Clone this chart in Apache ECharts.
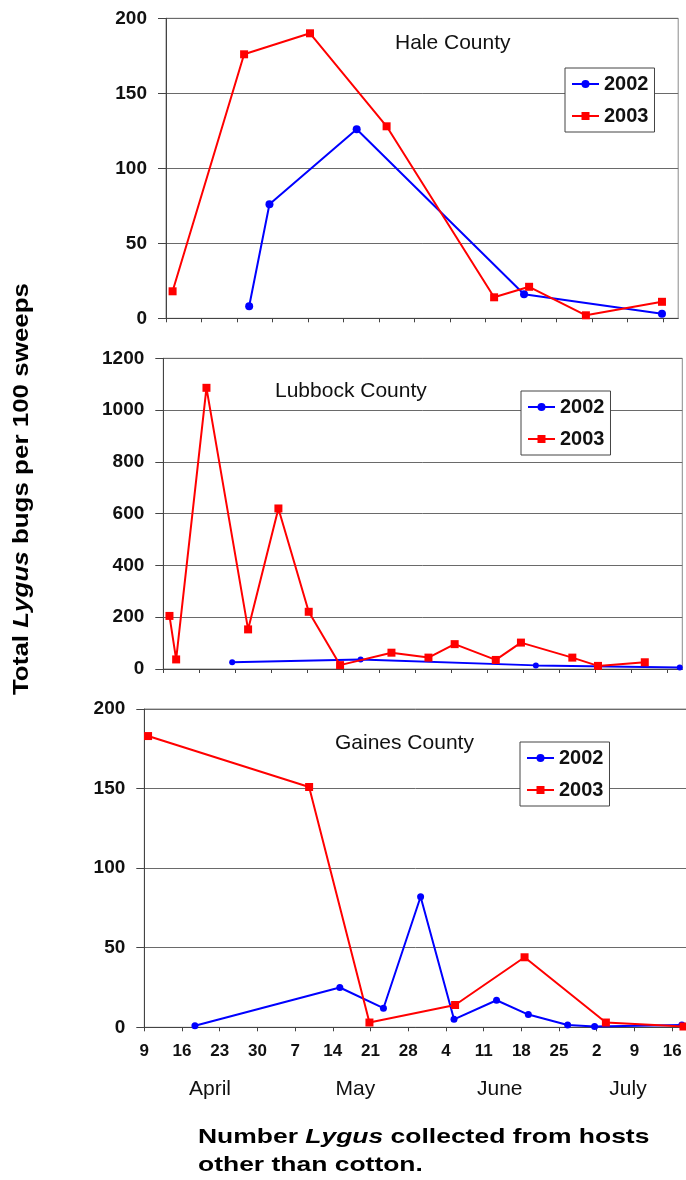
<!DOCTYPE html>
<html>
<head>
<meta charset="utf-8">
<script src="https://cdn.jsdelivr.net/npm/echarts@6/dist/echarts.min.js"></script>
<style>
html,body{margin:0;padding:0;background:#fff;}
#chart{width:686px;height:1180px;}
</style>
</head>
<body>
<div id="chart"></div>
<script>
// ---- data (x = days after 9 April) ----
const xTickLabels = ['9','16','23','30','7','14','21','28','4','11','18','25','2','9','16'];
const months = ['April','May','June','July'];
const monthCenters = [12.2, 39.2, 66.0, 89.8];
const panelTitles = ['Hale County','Lubbock County','Gaines County'];
const seriesNames = ['2002','2003'];

const haleDays2002 = [16.4, 20.4, 37.6, 70.6, 97.8];
const haleVals2002 = [8, 76, 126, 16, 3];
const haleDays2003 = [1.3, 15.4, 28.4, 43.5, 64.7, 71.6, 82.8, 97.8];
const haleVals2003 = [18, 176, 190, 128, 14, 21, 2, 11];

const lubDays2002 = [13.4, 38.4, 72.5, 100.5];
const lubVals2002 = [26, 37, 14, 6];
const lubDays2003 = [1.2, 2.5, 8.4, 16.5, 22.4, 28.3, 34.4, 44.4, 51.6, 56.7, 64.7, 69.6, 79.6, 84.6, 93.7];
const lubVals2003 = [205, 37, 1086, 153, 620, 221, 15, 63, 44, 96, 35, 102, 44, 12, 26];

const gaiDays2002 = [9.4, 36.3, 44.4, 51.3, 57.5, 65.4, 71.3, 78.6, 83.6, 99.8];
const gaiVals2002 = [1, 25, 12, 82, 5, 17, 8, 1.5, 0.5, 1.5];
const gaiDays2003 = [0.7, 30.6, 41.8, 57.7, 70.6, 85.7, 100.1];
const gaiVals2003 = [183, 151, 3, 14, 44, 3, 0.5];

const yMax = [200, 1200, 200];
const yInterval = [50, 200, 50];

// ---- build ----
const FONT = 'Liberation Sans, Arial, sans-serif';
const zip = (d, v) => d.map((x, i) => [x, v[i]]);
const tickValues = xTickLabels.map((_, i) => i * 7);

const grids = [
  {left: 166, top: 18.3, width: 512.2, height: 300},
  {left: 163.3, top: 358.3, width: 519, height: 310.7},
  {left: 144.3, top: 709, width: 544, height: 318.3}
].map(g => Object.assign({show: true, borderColor: '#8a8a8a', borderWidth: 1, backgroundColor: 'transparent', outerBoundsMode: 'none', containLabel: false}, g));

const xAxes = [0, 1, 2].map(i => ({
  type: 'value', gridIndex: i, min: 0, max: 101, interval: 7,
  axisLine: {show: true, onZero: false, lineStyle: {color: '#444', width: 1}},
  axisTick: {show: true, length: 4, customValues: tickValues, lineStyle: {color: '#444'}},
  splitLine: {show: false},
  axisLabel: {
    show: i === 2, customValues: tickValues, margin: 16,
    color: '#111', fontFamily: FONT, fontWeight: 'bold', fontSize: 17,
    formatter: v => { const k = Math.round(v / 7); return xTickLabels[k] !== undefined ? xTickLabels[k] : ''; }
  }
}));
xAxes.push({
  type: 'value', gridIndex: 2, min: 0, max: 101, position: 'bottom',
  axisLine: {show: false}, axisTick: {show: false}, splitLine: {show: false},
  axisLabel: {
    show: true, customValues: monthCenters, margin: 51,
    color: '#111', fontFamily: FONT, fontSize: 21,
    formatter: v => { const k = monthCenters.indexOf(v); return k >= 0 ? months[k] : ''; }
  }
});

const yAxes = [0, 1, 2].map(i => ({
  type: 'value', gridIndex: i, min: 0, max: yMax[i], interval: yInterval[i],
  axisLine: {show: true, lineStyle: {color: '#444', width: 1}},
  axisTick: {show: true, length: 8, lineStyle: {color: '#444'}},
  splitLine: {show: true, lineStyle: {color: '#6a6a6a', width: 1}},
  axisLabel: {margin: 19, color: '#111', fontFamily: FONT, fontWeight: 'bold', fontSize: 19,
    formatter: v => String(v)}
}));

function mk(name, gi, data, blueSize) {
  const blue = name === '2002';
  return {
    name, type: 'line', xAxisIndex: gi, yAxisIndex: gi, data,
    symbol: blue ? 'circle' : 'rect', symbolSize: blue ? blueSize : 8,
    showSymbol: true, clip: false, animation: false,
    lineStyle: {color: blue ? '#0000ff' : '#ff0000', width: 2},
    itemStyle: {color: blue ? '#0000ff' : '#ff0000'},
    z: blue ? 3 : 4
  };
}

const series = [
  mk('2002', 0, zip(haleDays2002, haleVals2002), 8),
  mk('2003', 0, zip(haleDays2003, haleVals2003), 8),
  mk('2002', 1, zip(lubDays2002, lubVals2002), 6),
  mk('2003', 1, zip(lubDays2003, lubVals2003), 8),
  mk('2002', 2, zip(gaiDays2002, gaiVals2002), 7),
  mk('2003', 2, zip(gaiDays2003, gaiVals2003), 8)
];

const legendPos = [
  {left: 565, top: 68},
  {left: 521, top: 391},
  {left: 520, top: 742}
];
const legends = legendPos.map(p => ({
  data: seriesNames, orient: 'vertical', left: p.left, top: p.top,
  backgroundColor: '#fff', borderColor: '#444', borderWidth: 1, borderRadius: 0,
  padding: [6, 6, 6, 6], itemGap: 12, itemWidth: 27, itemHeight: 10,
  textStyle: {color: '#111', fontFamily: FONT, fontWeight: 'bold', fontSize: 20, padding: [0, 0, 0, 0]},
  selectedMode: false, z: 10
}));

const titlePos = [
  {left: 395, top: 33},
  {left: 275, top: 381},
  {left: 335, top: 733}
];
const titles = titlePos.map((p, i) => ({
  text: panelTitles[i], left: p.left, top: p.top, padding: 0,
  textStyle: {color: '#111', fontFamily: FONT, fontWeight: 'normal', fontSize: 21}
}));

const chart = echarts.init(document.getElementById('chart'), null, {renderer: 'canvas'});
chart.setOption({
  animation: false,
  backgroundColor: '#fff',
  title: titles,
  legend: legends,
  grid: grids,
  xAxis: xAxes,
  yAxis: yAxes,
  series,
  graphic: [
    {
      type: 'text', x: 22, y: 489, rotation: Math.PI / 2, scaleX: 1.18,
      style: {
        text: '{a|Total }{i|Lygus}{a| bugs per 100 sweeps}',
        align: 'center', verticalAlign: 'middle',
        rich: {
          a: {fontFamily: FONT, fontWeight: 'bold', fontSize: 22, fill: '#000'},
          i: {fontFamily: FONT, fontWeight: 'bold', fontStyle: 'italic', fontSize: 22, fill: '#000'}
        }
      }
    },
    {
      type: 'text', x: 198, y: 1123, scaleX: 1.26,
      style: {
        text: '{a|Number }{i|Lygus}{a| collected from hosts}\n{a|other than cotton.}',
        align: 'left', verticalAlign: 'top',
        rich: {
          a: {fontFamily: FONT, fontWeight: 'bold', fontSize: 21, lineHeight: 28, fill: '#000'},
          i: {fontFamily: FONT, fontWeight: 'bold', fontStyle: 'italic', fontSize: 21, lineHeight: 28, fill: '#000'}
        }
      }
    }
  ]
});
</script>
</body>
</html>
